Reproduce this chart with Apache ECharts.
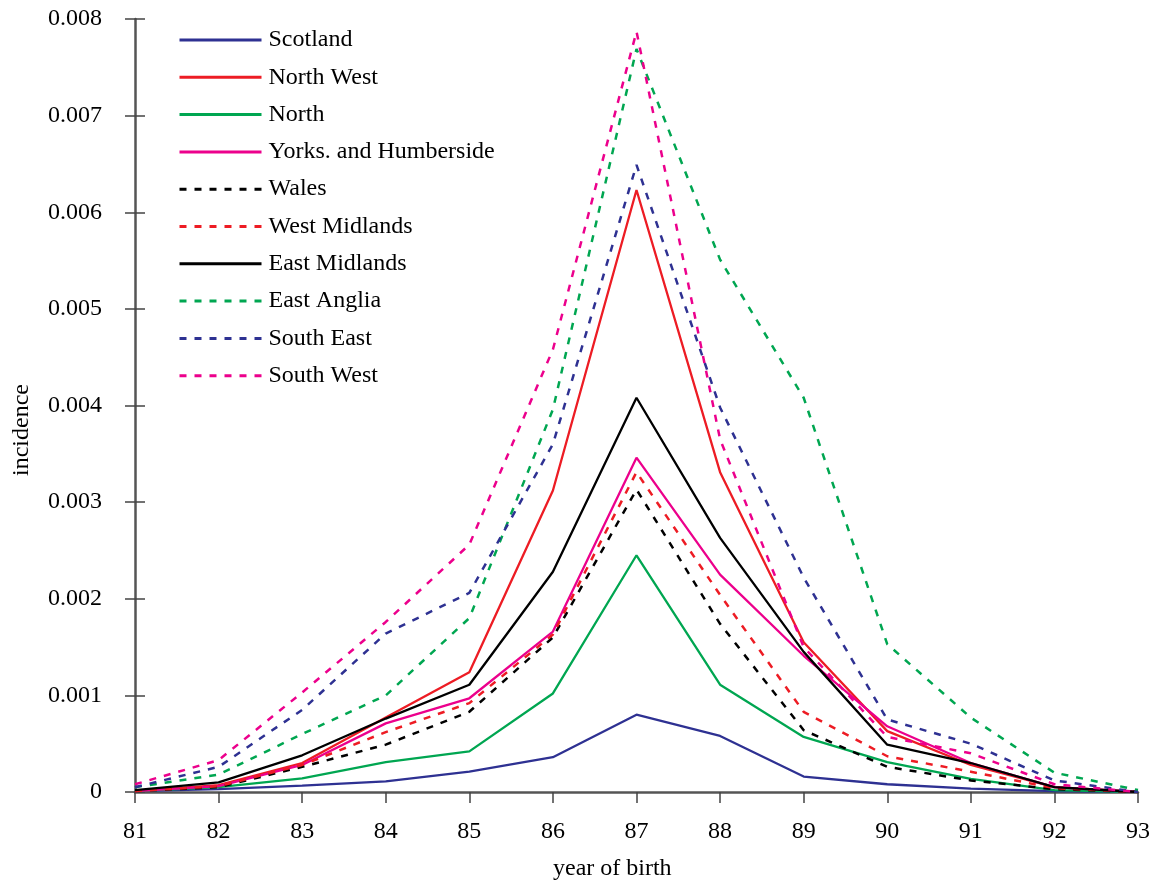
<!DOCTYPE html>
<html>
<head>
<meta charset="utf-8">
<script src="https://cdn.jsdelivr.net/npm/echarts@6/dist/echarts.min.js"></script>
<style>
  html, body { margin: 0; padding: 0; background: #fff; }
  #chart { width: 1153px; height: 884px; }
</style>
</head>
<body>
<div id="chart"></div>
<script>
// Year of birth (two-digit years)
const years = ['81','82','83','84','85','86','87','88','89','90','91','92','93'];

// Incidence by region and year of birth
const scotland      = [0.00001,0.00003,0.000065,0.00011,0.00021,0.00036,0.00080,0.00058,0.00016,0.00008,0.000035,0.00001,0];
const northWest     = [0.00001,0.00007,0.00030,0.00077,0.00124,0.00312,0.00623,0.00331,0.00155,0.00063,0.00028,0.00005,0];
const north         = [0.00001,0.00005,0.00014,0.00031,0.00042,0.00102,0.00245,0.00111,0.00057,0.00031,0.000135,0.00002,0];
const yorks         = [0.00001,0.00006,0.00028,0.00071,0.00097,0.00166,0.00346,0.00225,0.00141,0.00068,0.00030,0.00005,0];
const wales         = [0.00001,0.00005,0.00026,0.00049,0.00083,0.00160,0.00313,0.00174,0.00064,0.00026,0.00012,0.00003,0];
const westMidlands  = [0.00001,0.00006,0.00028,0.00062,0.00092,0.00163,0.00331,0.00204,0.00083,0.00037,0.00021,0.00004,0];
const eastMidlands  = [0.00002,0.00010,0.00038,0.00076,0.00111,0.00228,0.00408,0.00263,0.00145,0.00049,0.00030,0.00005,0];
const eastAnglia    = [0.00005,0.00018,0.00060,0.00100,0.00180,0.00396,0.00769,0.00551,0.00408,0.00153,0.00077,0.00020,0.00002];
const southEast     = [0.00005,0.00026,0.00085,0.00164,0.00206,0.00360,0.00649,0.00398,0.00222,0.00075,0.00050,0.00012,0];
const southWest     = [0.00008,0.00033,0.00103,0.00176,0.00256,0.00458,0.00787,0.00365,0.00150,0.00057,0.00040,0.00008,0];

// Y-axis range
const yMin = 0, yMax = 0.008, yStep = 0.001;

const NAVY = '#2e3192', RED = '#ed1c24', GREEN = '#00a651', MAGENTA = '#ec008c', BLACK = '#000000';
const FONT = '"Liberation Serif", "DejaVu Serif", serif';

function line(name, data, color, dashed) {
  return {
    name, type: 'line', data,
    symbol: 'none', showSymbol: false, smooth: false,
    itemStyle: { color },
    lineStyle: dashed
      ? { color, width: 2.5, type: [7, 8] }
      : { color, width: 2.3 },
    emphasis: { disabled: true },
    animation: false
  };
}

const chart = echarts.init(document.getElementById('chart'), null, { renderer: 'canvas' });
chart.setOption({
  backgroundColor: '#fff',
  animation: false,
  textStyle: { fontFamily: FONT },
  grid: { left: 135, right: 10, top: 19, bottom: 92, containLabel: false },
  legend: {
    orient: 'vertical',
    left: 173, top: 23,
    itemWidth: 82, itemHeight: 12, itemGap: 13.3,
    itemStyle: { opacity: 0 },
    lineStyle: { width: 3 },
    textStyle: { fontFamily: FONT, fontSize: 24, color: '#000', padding: [0,0,0,2] },
    data: ['Scotland','North West','North','Yorks. and Humberside','Wales','West Midlands','East Midlands','East Anglia','South East','South West']
  },
  xAxis: {
    type: 'category', data: years, boundaryGap: false,
    axisLine: { lineStyle: { color: '#555', width: 2.5 } },
    axisTick: { show: true, inside: false, length: 11, alignWithLabel: true, lineStyle: { color: '#444', width: 1.5 } },
    axisLabel: { margin: 28, fontFamily: FONT, fontSize: 24, color: '#000' },
    splitLine: { show: false }
  },
  yAxis: [
    {
      type: 'value', min: yMin, max: yMax, interval: yStep,
      axisLine: { show: true, lineStyle: { color: '#555', width: 2.5 } },
      axisTick: { show: true, inside: false, length: 10, lineStyle: { color: '#444', width: 1.5 } },
      axisLabel: {
        margin: 33, fontFamily: FONT, fontSize: 24, color: '#000',
        formatter: v => (v === 0 ? '0' : v.toFixed(3))
      },
      splitLine: { show: false }
    },
    {
      type: 'value', min: yMin, max: yMax, interval: yStep, position: 'left',
      axisLine: { show: false },
      axisTick: { show: true, inside: true, length: 10, lineStyle: { color: '#444', width: 1.5 } },
      axisLabel: { show: false },
      splitLine: { show: false }
    }
  ],
  series: [
    line('Scotland', scotland, NAVY, false),
    line('North West', northWest, RED, false),
    line('North', north, GREEN, false),
    line('Yorks. and Humberside', yorks, MAGENTA, false),
    line('Wales', wales, BLACK, true),
    line('West Midlands', westMidlands, RED, true),
    line('East Midlands', eastMidlands, BLACK, false),
    line('East Anglia', eastAnglia, GREEN, true),
    line('South East', southEast, NAVY, true),
    line('South West', southWest, MAGENTA, true)
  ],
  graphic: [
    { type: 'text', left: 553, top: 857,
      style: { text: 'year of birth', font: '24px ' + FONT, fill: '#000' } },
    { type: 'text', x: 10, y: 476, rotation: Math.PI / 2,
      style: { text: 'incidence', font: '24px ' + FONT, fill: '#000' } }
  ]
});
</script>
</body>
</html>
